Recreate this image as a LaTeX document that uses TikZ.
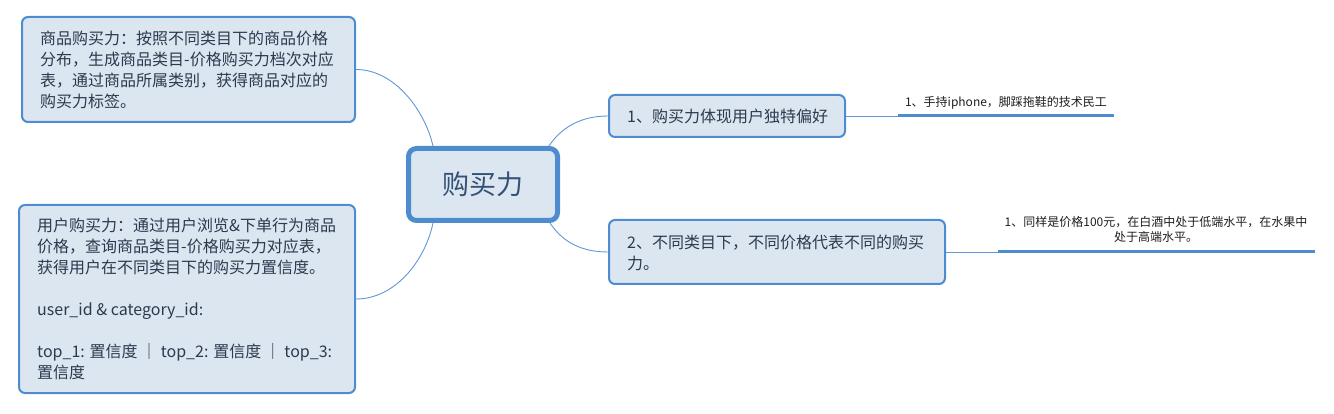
\documentclass[tikz,border=0pt]{standalone}
\usepackage{fontspec}
\setmainfont{Noto Sans CJK SC}
\definecolor{boxfill}{RGB}{220,230,241}
\definecolor{boxdraw}{RGB}{78,140,208}
\definecolor{connc}{RGB}{95,152,214}
\definecolor{boxtext}{RGB}{44,58,78}
\definecolor{centtext}{RGB}{52,82,118}
\definecolor{leaftextc}{RGB}{30,30,30}
\begin{document}
\begin{tikzpicture}[x=1pt,y=-1pt,
  topicbox/.style={draw=boxdraw, fill=boxfill, line width=2pt, rounded corners=6pt, inner sep=0pt},
  centbox/.style={draw=boxdraw, fill=boxfill, line width=5pt, rounded corners=8pt, inner sep=0pt,
    font=\fontsize{27}{32}\selectfont, text=centtext},
  topictext/.style={inner sep=0pt, align=left, text=boxtext, font=\fontsize{16}{21}\selectfont},
  leaftext/.style={inner sep=0pt, align=center, text=leaftextc, font=\fontsize{12}{15.5}\selectfont},
  conn/.style={draw=connc, line width=0.9pt},
  leafline/.style={draw=boxdraw, line width=3pt}
]
\useasboundingbox (0,0) rectangle (1334,414);

% central topic
\node[centbox, minimum width=149pt, minimum height=72pt] (C) at (483,184.5) {购买力};

% left floating topics
\node[topicbox, minimum width=333pt, minimum height=105pt] (A) at (188.5,69.5) {};
\node[topictext, anchor=west] (At) at ([xshift=19pt]A.west) {商品购买力：按照不同类目下的商品价格\\分布，生成商品类目-价格购买力档次对应\\表，通过商品所属类别，获得商品对应的\\购买力标签。};

\node[topicbox, minimum width=336pt, minimum height=188pt] (B) at (187,299) {};
\node[topictext, anchor=west] (Bt) at ([xshift=19pt]B.west) {用户购买力：通过用户浏览\&下单行为商品\\价格，查询商品类目-价格购买力对应表，\\获得用户在不同类目下的购买力置信度。\\[21pt]user\_id \& category\_id:\\[21pt]top\_1: 置信度 ｜ top\_2: 置信度 ｜ top\_3:\\置信度};

% right main topics
\node[topicbox, minimum width=236pt, minimum height=42pt] (N1) at (727,116) {};
\node[topictext, anchor=west] (N1t) at ([xshift=19pt]N1.west) {1、购买力体现用户独特偏好};

\node[topicbox, minimum width=336pt, minimum height=64pt] (N2) at (777,252) {};
\node[topictext, anchor=west] (N2t) at ([xshift=19pt,yshift=-1pt]N2.west) {2、不同类目下，不同价格代表不同的购买\\力。};

% connectors from central topic
\draw[conn] (A.east) .. controls +(39,0) and +(-8,-35) .. ([xshift=27pt]C.north west);
\draw[conn] (B.east) .. controls +(39,0) and +(-8,38) .. ([xshift=27pt]C.south west);
\draw[conn] ([xshift=-11pt]C.north east) .. controls +(12,-18) and +(-28,0) .. (N1.west);
\draw[conn] ([xshift=-10pt]C.south east) .. controls +(12,18) and +(-28,0) .. (N2.west);

% leaf 1
\coordinate (L1s) at (898,116);
\coordinate (L1e) at (1114,116);
\draw[conn] (N1.east) -- (L1s);
\draw[leafline] (L1s) -- (L1e);
\node[leaftext] (L1) at (1006,103) {1、手持iphone，脚踩拖鞋的技术民工};

% leaf 2
\coordinate (L2s) at (998,252);
\coordinate (L2e) at (1315,252);
\draw[conn] (N2.east) -- (L2s);
\draw[leafline] (L2s) -- (L2e);
\node[leaftext] (L2) at (1156,229.5) {1、同样是价格100元，在白酒中处于低端水平，在水果中\\处于高端水平。};
\end{tikzpicture}
\end{document}
